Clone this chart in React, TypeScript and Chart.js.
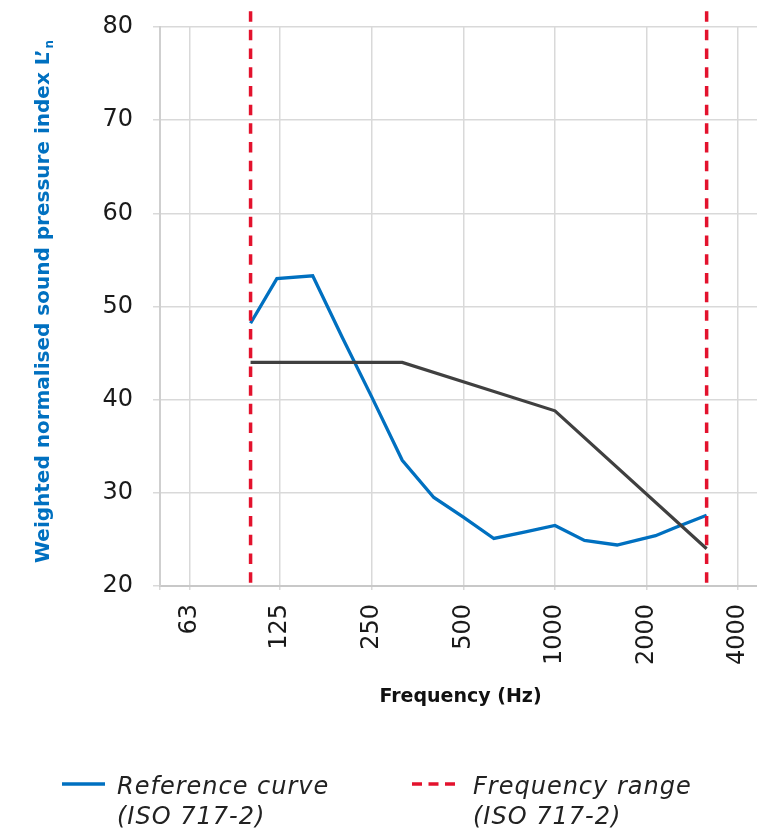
import React, { useEffect, useRef } from "react";
import { Chart, registerables } from "chart.js";

Chart.register(...registerables);

// ---- data ----
const measuredFreqs = [100, 122, 160, 200, 250, 315, 400, 500, 630, 800, 1000, 1250, 1600, 2140, 2500, 3150];
const measuredLevels = [48.2, 53.0, 53.3, 46.7, 40.3, 33.5, 29.5, 27.4, 25.1, 25.8, 26.5, 24.9, 24.4, 25.4, 26.3, 27.6];

const shiftedRefFreqs = [100, 315, 1000, 3150];
const shiftedRefLevels = [44, 44, 38.8, 24];

const rangeFreqs = [100, 3150];
const rangeLevels = [81.7, 20];

const xTickValues = [50.4, 63, 125, 250, 500, 1000, 2000, 4000];
const xTickLabels = ["", "63", "125", "250", "500", "1000", "2000", "4000"];

const yMin = 20;
const yMax = 80;
const yStep = 10;

const yTitle = "Weighted normalised sound pressure index L\u2019";
const yTitleSub = "n";
const xTitle = "Frequency (Hz)";
const legendItems = [
  { lines: ["Reference curve", "(ISO 717-2)"], kind: "solid" },
  { lines: ["Frequency range", "(ISO 717-2)"], kind: "dashed" },
];

const BLUE = "#0070C0";
const GREY = "#404040";
const RED = "#E3122D";
const GRID = "#d9d9d9";

const W = 757;
const H = 832;

const toPoints = (xs: number[], ys: number[]) => xs.map((x, i) => ({ x, y: ys[i] }));

const overlayPlugin = {
  id: "overlay",
  afterDraw(chart: any) {
    const ctx = chart.ctx as CanvasRenderingContext2D;
    const area = chart.chartArea;
    ctx.save();

    // Y title (rotated, with subscript)
    const mainFont = "bold 20px 'DejaVu Sans'";
    const subFont = "bold 12px 'DejaVu Sans'";
    ctx.font = mainFont;
    const w1 = ctx.measureText(yTitle).width;
    ctx.font = subFont;
    const w2 = ctx.measureText(yTitleSub).width;
    const total = w1 + w2 + 1;
    ctx.translate(area.left - 111, (area.top + area.bottom) / 2 - 5);
    ctx.rotate(-Math.PI / 2);
    ctx.fillStyle = BLUE;
    ctx.textAlign = "left";
    ctx.textBaseline = "alphabetic";
    ctx.font = mainFont;
    ctx.fillText(yTitle, -total / 2, 0);
    ctx.font = subFont;
    ctx.fillText(yTitleSub, -total / 2 + w1 + 1, 4);
    ctx.restore();

    // X title
    ctx.save();
    ctx.font = "bold 19px 'DejaVu Sans'";
    ctx.fillStyle = "#111";
    ctx.textAlign = "center";
    ctx.textBaseline = "alphabetic";
    ctx.fillText(xTitle, (area.left + area.right) / 2 + 2, area.bottom + 116);
    ctx.restore();

    // Legend
    ctx.save();
    const legendX = [62, 412];
    const textX = [117, 473];
    const lineY = 784;
    legendItems.forEach((item, i) => {
      ctx.beginPath();
      ctx.lineWidth = 3.5;
      if (item.kind === "solid") {
        ctx.strokeStyle = BLUE;
        ctx.setLineDash([]);
      } else {
        ctx.strokeStyle = RED;
        ctx.setLineDash([10, 6.5]);
      }
      ctx.moveTo(legendX[i], lineY);
      ctx.lineTo(legendX[i] + 43, lineY);
      ctx.stroke();
      ctx.setLineDash([]);
      ctx.fillStyle = "#222";
      ctx.font = "italic 24px 'DejaVu Sans'";
      (ctx as any).letterSpacing = "1px";
      ctx.textAlign = "left";
      ctx.textBaseline = "alphabetic";
      item.lines.forEach((ln, j) => {
        ctx.fillText(ln, textX[i], 794 + j * 30);
      });
    });
    ctx.restore();
  },
};

export default function App() {
  const canvasRef = useRef<HTMLCanvasElement | null>(null);

  useEffect(() => {
    document.body.style.margin = "0";
    const canvas = canvasRef.current;
    if (!canvas) return;
    const chart = new Chart(canvas, {
      type: "line",
      data: {
        datasets: [
          {
            label: "Frequency range low",
            data: [{ x: rangeFreqs[0], y: rangeLevels[0] }, { x: rangeFreqs[0], y: rangeLevels[1] }],
            borderColor: RED,
            borderWidth: 3.5,
            borderDash: [10.5, 8.2],
            pointRadius: 0,
            clip: false as any,
            tension: 0,
          },
          {
            label: "Frequency range high",
            data: [{ x: rangeFreqs[1], y: rangeLevels[0] }, { x: rangeFreqs[1], y: rangeLevels[1] }],
            borderColor: RED,
            borderWidth: 3.5,
            borderDash: [10.5, 8.2],
            pointRadius: 0,
            clip: false as any,
            tension: 0,
          },
          {
            label: "Shifted reference",
            data: toPoints(shiftedRefFreqs, shiftedRefLevels),
            borderColor: GREY,
            borderWidth: 3.2,
            pointRadius: 0,
            tension: 0,
          },
          {
            label: "Measured",
            data: toPoints(measuredFreqs, measuredLevels),
            borderColor: BLUE,
            borderWidth: 3.3,
            pointRadius: 0,
            tension: 0,
          },
        ],
      },
      options: {
        animation: false,
        responsive: false,
        devicePixelRatio: 1,
        layout: { padding: { left: 0, top: 27, right: 0, bottom: 0 } },
        plugins: {
          legend: { display: false },
          tooltip: { enabled: false },
          title: { display: false },
        },
        scales: {
          x: {
            type: "logarithmic",
            min: xTickValues[0],
            max: 4611,
            afterBuildTicks: (scale: any) => {
              scale.ticks = xTickValues.map((v) => ({ value: v }));
            },
            afterFit: (scale: any) => {
              scale.height = H - 586;
              scale.paddingLeft = 0;
              scale.paddingRight = 0;
            },
            ticks: {
              autoSkip: false,
              minRotation: 90,
              maxRotation: 90,
              padding: 14,
              color: "#1a1a1a",
              font: { family: "'DejaVu Sans'", size: 24 },
              callback: (_v: any, i: number) => xTickLabels[i],
            },
            grid: { color: GRID, lineWidth: 1.5, tickLength: 4, drawTicks: true },
            border: { color: "#c8c8c8", width: 2 },
          },
          y: {
            type: "linear",
            min: yMin,
            max: yMax,
            afterFit: (scale: any) => {
              scale.width = 160;
              scale.paddingTop = 0;
              scale.paddingBottom = 0;
            },
            ticks: {
              stepSize: yStep,
              padding: 20,
              color: "#1a1a1a",
              font: { family: "'DejaVu Sans'", size: 24 },
            },
            grid: { color: GRID, lineWidth: 1.5, tickLength: 7 },
            border: { color: "#cfcfcf", width: 2 },
          },
        },
      } as any,
      plugins: [overlayPlugin],
    });
    return () => chart.destroy();
  }, []);

  return (
    <div style={{ width: W, height: H, position: "relative", background: "#fff" }}>
      <canvas ref={canvasRef} width={W} height={H} style={{ display: "block" }} />
    </div>
  );
}
